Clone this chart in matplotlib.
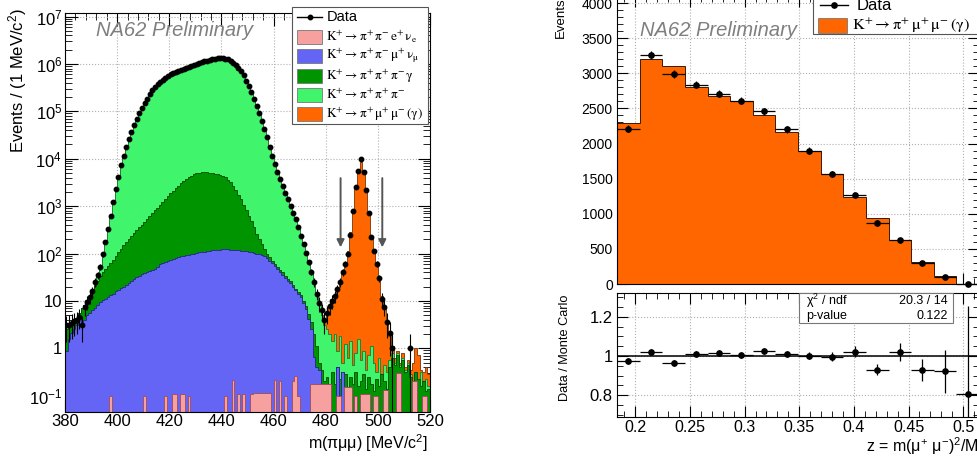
import numpy as np
import matplotlib
matplotlib.use('Agg')
import matplotlib.pyplot as plt
from matplotlib.ticker import MultipleLocator, LogLocator, NullFormatter
from matplotlib.patches import Rectangle
from matplotlib.lines import Line2D

plt.rcParams['font.family'] = ['Liberation Sans', 'DejaVu Sans']
plt.rcParams['mathtext.fontset'] = 'custom'
plt.rcParams['mathtext.rm'] = 'Liberation Sans'
plt.rcParams['mathtext.it'] = 'Liberation Sans:italic'
plt.rcParams['mathtext.bf'] = 'Liberation Sans:bold'

nan = np.nan

# ---- left panel: m(pi mu mu), 1 MeV bins from 380 to 520 ----
# values are log10 of the stacked heights (nan = empty)
data_log = [
    0.49, 0.50, 0.53, 0.57, 0.60, 0.67, 0.49, 0.88, 0.98, 1.08,
    1.20, 1.40, 1.55, 1.72, 1.98, 2.25, 2.52, 2.80, 3.08, 3.36,
    3.62, 3.86, 4.06, 4.25, 4.42, 4.56, 4.71, 4.84, 4.96, 5.07,
    5.18, 5.27, 5.36, 5.44, 5.51, 5.57, 5.62, 5.67, 5.71, 5.75,
    5.78, 5.81, 5.84, 5.86, 5.88, 5.90, 5.92, 5.94, 5.96, 5.98,
    6.00, 6.02, 6.04, 6.06, 6.07, 6.09, 6.10, 6.11, 6.12, 6.12,
    6.12, 6.11, 6.10, 6.07, 6.03, 5.97, 5.92, 5.85, 5.76, 5.65,
    5.53, 5.40, 5.27, 5.12, 4.97, 4.80, 4.62, 4.45, 4.25, 4.05,
    3.88, 3.72, 3.57, 3.42, 3.28, 3.14, 3.00, 2.86, 2.72, 2.55,
    2.38, 2.20, 2.02, 1.82, 1.62, 1.40, 1.15, 0.95, 0.80, 0.60,
    0.75, 0.90, 1.00, 1.10, 1.25, 1.40, 1.60, 1.78, 2.00, 2.40,
    2.90, 3.40, 3.75, 3.99, 3.72, 3.35, 2.85, 2.35, 2.06, 1.78,
    1.48, 1.05, 0.88, 0.55, 0.33, 0.00, nan, nan, nan, nan,
    nan, nan, 0.00, nan, nan, nan, nan, nan, nan, nan,
]

# K+ -> pi+ pi- e+ nu (absolute, bottom of the stack)
ke4_vals = [
    0, 0, 0, 0, 0, 0, 0, 0, 0, 0,
    0, 0, 0, 0, 0, 0, 0, 0.10, 0, 0,
    0, 0, 0, 0, 0, 0, 0, 0, 0, 0,
    0.10, 0, 0, 0, 0, 0, 0, 0, 0.10, 0,
    0, 0.11, 0.11, 0, 0.11, 0.11, 0, 0.10, 0, 0,
    0, 0, 0, 0, 0, 0, 0, 0, 0, 0,
    0, 0.10, 0, 0, 0.21, 0, 0.11, 0, 0.11, 0,
    0, 0.11, 0.115, 0.115, 0.115, 0.115, 0.115, 0.115, 0.115, 0,
    0.21, 0, 0.20, 0, 0.10, 0, 0, 0.20, 0.26, 0.10,
    0, 0, 0, 0, 0.18, 0.18, 0.18, 0.18, 0.18, 0.18,
    0.18, 0.18, 0, 0, 0.10, 0.10, 0, 0.15, 0.15, 0.15,
    0, 0.10, 0, 0.11, 0.11, 0.11, 0.11, 0, 0.10, 0.10,
    0, 0, 0.13, 0.13, 0, 0, 0, 0.30, 0.30, 0,
    0, 0, 0, 0.20, 0.20, 0, 0, 0.10, 0.10, 0,
]

# cumulative top after K+ -> pi+ pi- mu+ nu
kmu4_log = [
    -0.05, 0.20, 0.32, 0.40, 0.50, 0.65, 0.55, 0.60, 0.70, 0.75,
    0.80, 0.85, 0.92, 0.98, 1.02, 1.05, 1.08, 1.12, 1.15, 1.20,
    1.23, 1.27, 1.30, 1.34, 1.38, 1.42, 1.46, 1.50, 1.53, 1.56,
    1.59, 1.62, 1.64, 1.66, 1.68, 1.72, 1.77, 1.80, 1.83, 1.85,
    1.87, 1.89, 1.91, 1.92, 1.94, 1.95, 1.96, 1.97, 1.99, 2.00,
    2.01, 2.03, 2.04, 2.04, 2.05, 2.06, 2.07, 2.07, 2.08, 2.08,
    2.09, 2.09, 2.09, 2.08, 2.08, 2.07, 2.07, 2.06, 2.06, 2.05,
    2.04, 2.03, 2.02, 2.00, 1.99, 1.97, 1.94, 1.90, 1.85, 1.80,
    1.74, 1.68, 1.60, 1.54, 1.48, 1.42, 1.37, 1.30, 1.22, 1.15,
    1.08, 0.95, 0.82, 0.62, 0.40, -0.18, -0.40, -0.45, nan, nan,
    nan, nan, nan, nan, -0.39, nan, -0.50, nan, nan, nan,
    nan, nan, nan, nan, nan, nan, nan, nan, nan, nan,
    nan, nan, nan, nan, nan, nan, nan, nan, nan, nan,
    nan, nan, nan, nan, nan, nan, nan, nan, nan, nan,
]

# cumulative top after K+ -> pi+ pi+ pi- gamma
k3pig_log = [
    0.40, 0.45, 0.50, 0.58, 0.65, 0.75, 0.85, 0.92, 1.00, 1.10,
    1.20, 1.32, 1.42, 1.52, 1.60, 1.67, 1.73, 1.80, 1.87, 1.95,
    2.03, 2.10, 2.17, 2.24, 2.31, 2.37, 2.43, 2.49, 2.55, 2.61,
    2.67, 2.73, 2.79, 2.85, 2.91, 2.97, 3.03, 3.09, 3.15, 3.21,
    3.27, 3.32, 3.38, 3.43, 3.48, 3.53, 3.57, 3.61, 3.64, 3.67,
    3.69, 3.70, 3.71, 3.71, 3.71, 3.70, 3.69, 3.68, 3.67, 3.66,
    3.64, 3.61, 3.56, 3.50, 3.42, 3.33, 3.24, 3.14, 3.03, 2.92,
    2.80, 2.68, 2.55, 2.42, 2.30, 2.20, 2.10, 2.00, 1.92, 1.85,
    1.78, 1.72, 1.66, 1.60, 1.53, 1.47, 1.41, 1.33, 1.26, 1.18,
    1.12, 1.00, 0.90, 0.72, 0.55, 0.30, 0.05, -0.30, -0.45, -0.70,
    -0.60, -0.90, -0.50, -0.75, -0.40, -0.65, -0.80, -0.55, -0.85, -0.60,
    -0.75, -0.50, -0.80, -0.70, -0.55, -0.85, -0.60, -0.75, -0.90, -0.65,
    -0.80, -0.55, -0.70, -0.85, -0.40, -0.20, -0.35, -0.15, -0.40, -0.25,
    -0.50, -0.35, -0.60, -0.75, -0.50, -0.65, -0.80, -0.70, -0.90, -0.85,
]

# cumulative top after K+ -> pi+ pi+ pi-
k3pi_log = [
    0.47, 0.52, 0.50, 0.58, 0.62, 0.70, 0.62, 0.85, 0.98, 1.10,
    1.22, 1.38, 1.56, 1.74, 1.98, 2.24, 2.52, 2.80, 3.08, 3.36,
    3.62, 3.86, 4.06, 4.25, 4.42, 4.56, 4.71, 4.84, 4.96, 5.07,
    5.18, 5.27, 5.36, 5.44, 5.51, 5.57, 5.62, 5.67, 5.71, 5.75,
    5.78, 5.81, 5.84, 5.86, 5.88, 5.90, 5.92, 5.94, 5.96, 5.98,
    6.00, 6.02, 6.04, 6.06, 6.07, 6.09, 6.10, 6.11, 6.12, 6.12,
    6.12, 6.11, 6.10, 6.07, 6.03, 5.97, 5.92, 5.85, 5.76, 5.65,
    5.53, 5.40, 5.27, 5.12, 4.97, 4.80, 4.62, 4.45, 4.25, 4.05,
    3.88, 3.72, 3.57, 3.42, 3.28, 3.14, 3.00, 2.86, 2.72, 2.55,
    2.38, 2.20, 2.02, 1.82, 1.62, 1.40, 1.15, 0.92, 0.70, 0.50,
    0.40, 0.30, 0.15, 0.30, -0.05, 0.25, -0.30, 0.10, -0.20, 0.15,
    -0.35, -0.10, 0.20, -0.25, -0.05, -0.45, -0.15, 0.05, -0.30, -0.50,
    -0.20, -0.60, -0.35, -0.50, -0.25, -0.10, -0.30, -0.10, -0.35, -0.20,
    -0.45, -0.30, -0.55, -0.85, -0.60, -0.70, -0.50, -0.90, -0.65, -0.80,
]

# cumulative top after K+ -> pi+ mu+ mu- (gamma)
kpimumu_log = [nan] * 99 + [
    0.60,
    0.75, 0.90, 1.00, 1.10, 1.25, 1.42, 1.60, 1.80, 2.05, 2.45,
    2.92, 3.40, 3.75, 3.93, 3.72, 3.32, 2.85, 2.38, 2.05, 1.75,
    1.45, 1.10, 0.85, 0.55, 0.25, 0.05, -0.20, -0.05, -0.30, -0.10,
    -0.40, -0.25, -0.45, -0.30, 0.00, -0.15, -0.45, -0.50, -0.40, -0.55,
]

signal_window = [485.7, 501.7]

# ---- right panel: z = m(mu mu)^2 / M_K^2, 16 bins ----
z_lo, z_hi, z_nbins = 0.1832, 0.5145, 16
mc_z = [2290, 3200, 3100, 2810, 2680, 2610, 2400, 2170, 1900, 1570, 1240, 940, 620, 320, 110, 6]
data_z = [2210, 3260, 2990, 2840, 2710, 2610, 2460, 2200, 1900, 1570, 1265, 875, 633, 297, 101, 5]
ratio_z = [0.974, 1.021, 0.964, 1.010, 1.014, 1.003, 1.026, 1.010, 1.002, 0.997,
           1.021, 0.931, 1.021, 0.927, 0.922, 0.806]
ratio_err = [0.015, 0.014, 0.015, 0.014, 0.015, 0.015, 0.016, 0.016, 0.018, 0.022,
             0.028, 0.026, 0.045, 0.056, 0.108, 0.45]
chi2_text = ('20.3 / 14', '0.122')

C_KE4, E_KE4 = '#f7a0a0', '#a04a5a'
C_KMU4, E_KMU4 = '#6464f5', '#26268a'
C_K3PIG, E_K3PIG = '#009400', '#004a00'
C_K3PI, E_K3PI = '#40f56c', '#1b7a32'
C_KPMM, E_KPMM = '#ff6600', '#7a3300'

W, H = 977.0, 459.0


def rect(x0, y0, x1, y1):
    return [x0 / W, 1 - y1 / H, (x1 - x0) / W, (y1 - y0) / H]


def fxy(x, y):
    return x / W, 1 - y / H


def stack_on(below, top_log):
    top_log = np.array(top_log, dtype=float)
    top = np.where(np.isnan(top_log), 0.0, 10.0 ** np.nan_to_num(top_log, nan=-9))
    return np.maximum(below, top)


def root_ticks(ax, major=8, minor=4):
    ax.tick_params(which='both', direction='in', top=True, right=True)
    ax.tick_params(which='major', length=major, width=0.8)
    ax.tick_params(which='minor', length=minor, width=0.6)


fig = plt.figure(figsize=(9.77, 4.59), dpi=100)

# ================= left panel =================
ax = fig.add_axes(rect(65, 13.3, 430, 411.7))
edges = np.arange(380, 521, 1.0)
centers = 0.5 * (edges[1:] + edges[:-1])

ke4 = np.array(ke4_vals, dtype=float)
kmu4 = stack_on(ke4, kmu4_log)
k3pig = stack_on(kmu4, k3pig_log)
k3pi = stack_on(k3pig, k3pi_log)
kpimumu = stack_on(k3pi, kpimumu_log)

floor = 1e-3
for vals, fc, ec in [(kpimumu, C_KPMM, E_KPMM), (k3pi, C_K3PI, E_K3PI),
                     (k3pig, C_K3PIG, E_K3PIG), (kmu4, C_KMU4, E_KMU4),
                     (ke4, C_KE4, E_KE4)]:
    ax.stairs(np.maximum(vals, floor), edges, baseline=floor, fill=True,
              facecolor=fc, edgecolor=ec, lw=0.6, zorder=2)

dlog = np.array(data_log, dtype=float)
ok = ~np.isnan(dlog)
dval = 10.0 ** dlog[ok]
derr = np.sqrt(dval)
dlo = np.minimum(derr, dval - 0.01)
ax.errorbar(centers[ok], dval, yerr=[dlo, derr], xerr=0.5, fmt='o', ms=3.2,
            color='black', elinewidth=0.8, capsize=0, zorder=4)

for xa in signal_window:
    ax.annotate('', xy=(xa, 135), xytext=(xa, 3900),
                arrowprops=dict(arrowstyle='-|>', color='#555555', lw=1.4,
                                mutation_scale=11, shrinkA=0, shrinkB=0), zorder=5)

ax.set_xlim(380, 520)
ax.set_yscale('log')
ax.set_ylim(0.046, 1.17e7)
ax.set_xticks(np.arange(380, 521, 20))
ax.xaxis.set_minor_locator(MultipleLocator(4))
ax.set_yticks([0.1, 1, 10, 1e2, 1e3, 1e4, 1e5, 1e6, 1e7])
ax.set_yticklabels([r'$10^{-1}$', '1', '10', r'$10^{2}$', r'$10^{3}$', r'$10^{4}$',
                    r'$10^{5}$', r'$10^{6}$', r'$10^{7}$'])
ax.yaxis.set_minor_locator(LogLocator(base=10, subs=np.arange(2, 10), numticks=20))
ax.yaxis.set_minor_formatter(NullFormatter())
root_ticks(ax, 9, 5)
ax.tick_params(labelsize=12, pad=2)
ax.grid(True, which='major', ls=':', color='#b0b0b0', lw=0.8, zorder=0)
ax.set_axisbelow(True)
for sp in ax.spines.values():
    sp.set_zorder(6)

fig.text(*fxy(96, 30), 'NA62 Preliminary', color='#7f7f7f', style='italic',
         fontsize=14.5, va='center', ha='left')
fig.text(*fxy(18, 8), r'Events / (1 MeV/c$^{2}$)', rotation=90, ha='center',
         va='top', fontsize=12)
fig.text(*fxy(428, 443), r'm(πμμ) [MeV/c$^{2}$]', ha='right',
         va='center', fontsize=11.5)

# left legend
fig.add_artist(Rectangle(fxy(292, 124), 136 / W, 117 / H, transform=fig.transFigure,
                         facecolor='white', edgecolor='#555555', lw=0.8, zorder=10))
fig.add_artist(Line2D([297 / W, 322 / W], [1 - 17 / H] * 2, transform=fig.transFigure,
                      color='black', lw=1, zorder=11))
fig.add_artist(Line2D([309.5 / W], [1 - 17 / H], transform=fig.transFigure,
                      marker='o', ms=3.2, color='black', zorder=11))
fig.text(*fxy(327, 17), 'Data', fontsize=10.5, va='center', zorder=11)
left_entries = [
    (C_KE4, r'$\mathrm{K^{+}\rightarrow\pi^{+}\,\pi^{-}\,e^{+}\,\nu_{e}}$', 37),
    (C_KMU4, r'$\mathrm{K^{+}\rightarrow\pi^{+}\,\pi^{-}\,\mu^{+}\,\nu_{\mu}}$', 56),
    (C_K3PIG, r'$\mathrm{K^{+}\rightarrow\pi^{+}\,\pi^{+}\,\pi^{-}\,\gamma}$', 76),
    (C_K3PI, r'$\mathrm{K^{+}\rightarrow\pi^{+}\,\pi^{+}\,\pi^{-}}$', 95),
    (C_KPMM, r'$\mathrm{K^{+}\rightarrow\pi^{+}\,\mu^{+}\,\mu^{-}\,(\gamma)}$', 114),
]
for fc, lab, yc in left_entries:
    fig.add_artist(Rectangle(fxy(297, yc + 6.5), 25 / W, 13 / H, transform=fig.transFigure,
                             facecolor=fc, edgecolor='#777777', lw=0.6, zorder=11))
    fig.text(*fxy(326, yc), lab, fontsize=9.6, va='center', math_fontfamily='stix',
             zorder=11)

# ================= right panel, upper =================
z_edges = np.linspace(z_lo, z_hi, z_nbins + 1)
z_cent = 0.5 * (z_edges[1:] + z_edges[:-1])
z_half = 0.5 * (z_edges[1] - z_edges[0])

axu = fig.add_axes(rect(617, -4, 979, 284))
axu.stairs(mc_z, z_edges, fill=True, facecolor=C_KPMM, edgecolor='#3a1a00', lw=0.7, zorder=2)
dz = np.array(data_z, dtype=float)
axu.errorbar(z_cent, dz, yerr=np.sqrt(dz), xerr=z_half, fmt='o', ms=3.8, color='black',
             elinewidth=0.9, capsize=0, zorder=4, clip_on=False)
axu.set_xlim(z_lo, z_hi)
axu.set_ylim(0, 4100)
axu.xaxis.set_major_locator(MultipleLocator(0.05))
axu.xaxis.set_minor_locator(MultipleLocator(0.01))
axu.yaxis.set_major_locator(MultipleLocator(500))
axu.yaxis.set_minor_locator(MultipleLocator(100))
axu.set_xticklabels([])
root_ticks(axu, 8, 4)
axu.tick_params(labelsize=10, pad=3)
axu.grid(True, which='major', ls=':', color='#b0b0b0', lw=0.8)
axu.set_axisbelow(True)
for sp in axu.spines.values():
    sp.set_zorder(6)

fig.text(*fxy(561, 38), 'Events', rotation=90, ha='center', va='bottom', fontsize=9.5)
fig.text(*fxy(640, 30), 'NA62 Preliminary', color='#7f7f7f', style='italic',
         fontsize=14.5, va='center', ha='left')

fig.add_artist(Rectangle(fxy(813, 34), 180 / W, 40 / H, transform=fig.transFigure,
                         facecolor='white', edgecolor='#555555', lw=0.8, zorder=10))
fig.add_artist(Line2D([820 / W, 848 / W], [1 - 5 / H] * 2, transform=fig.transFigure,
                      color='black', lw=1, zorder=11))
fig.add_artist(Line2D([834 / W], [1 - 5 / H], transform=fig.transFigure,
                      marker='o', ms=3.8, color='black', zorder=11))
fig.text(*fxy(857, 5), 'Data', fontsize=12, va='center', zorder=11)
fig.add_artist(Rectangle(fxy(818, 33), 29 / W, 15 / H, transform=fig.transFigure,
                         facecolor=C_KPMM, edgecolor='#777777', lw=0.6, zorder=11))
fig.text(*fxy(852, 26), r'$\mathrm{K^{+}\rightarrow\pi^{+}\,\mu^{+}\,\mu^{-}\,(\gamma)}$',
         fontsize=11.8, va='center', math_fontfamily='stix', zorder=11)

# ================= right panel, ratio =================
axr = fig.add_axes(rect(617, 293.3, 979, 417.3))
axr.axhline(1.0, color='black', lw=1.1, zorder=3)
axr.errorbar(z_cent, ratio_z, yerr=ratio_err, xerr=z_half, fmt='o', ms=3.8, color='black',
             elinewidth=0.9, capsize=0, zorder=4)
axr.set_xlim(z_lo, z_hi)
axr.set_ylim(0.688, 1.319)
axr.xaxis.set_major_locator(MultipleLocator(0.05))
axr.xaxis.set_minor_locator(MultipleLocator(0.01))
axr.yaxis.set_major_locator(MultipleLocator(0.2))
axr.yaxis.set_minor_locator(MultipleLocator(0.05))
axr.set_xticks(np.arange(0.2, 0.51, 0.05))
axr.set_xticklabels(['0.2', '0.25', '0.3', '0.35', '0.4', '0.45', '0.5'])
axr.set_yticks([0.8, 1.0, 1.2])
axr.set_yticklabels(['0.8', '1', '1.2'])
root_ticks(axr, 8, 4)
axr.tick_params(axis='y', labelsize=12, pad=3)
axr.tick_params(axis='x', labelsize=11.5, pad=2)
axr.grid(True, which='major', ls=':', color='#b0b0b0', lw=0.8)
axr.set_axisbelow(True)

fig.add_artist(Rectangle(fxy(799, 323), 154 / W, 30 / H, transform=fig.transFigure,
                         facecolor='white', edgecolor='#777777', lw=0.8, zorder=10))
fig.text(*fxy(806, 301), 'χ$^{2}$ / ndf', fontsize=9, va='center', zorder=11)
fig.text(*fxy(948, 301), chi2_text[0], fontsize=9, va='center', ha='right', zorder=11)
fig.text(*fxy(806, 316), 'p-value', fontsize=9, va='center', zorder=11)
fig.text(*fxy(948, 316), chi2_text[1], fontsize=9, va='center', ha='right', zorder=11)

fig.text(*fxy(565, 348), 'Data / Monte Carlo', rotation=90, ha='center', va='center',
         fontsize=9.2)
fig.text(*fxy(866, 447), r'z = m(μ$^{+}$ μ$^{-}$)$^{2}$/M$_{K}^{2}$', ha='left',
         va='center', fontsize=11.5)

fig.savefig('out.png', dpi=100)
